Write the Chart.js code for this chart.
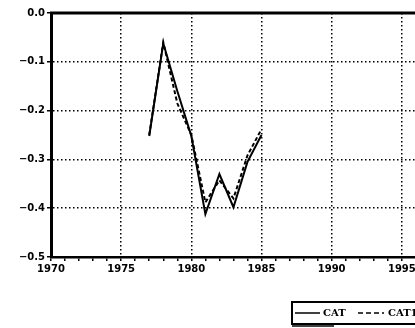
<!DOCTYPE html>
<html><head><meta charset="utf-8">
<script src="https://cdn.jsdelivr.net/npm/chart.js@4"></script>
<style>html,body{margin:0;padding:0;background:#fff;overflow:hidden;width:415px;height:328px}canvas{display:block}</style>
</head><body>
<canvas id="c" width="474" height="328"></canvas>
<script>
const years = [1977,1978,1979,1980,1981,1982,1983,1984,1985];
const cat  = [-0.252,-0.062,-0.160,-0.252,-0.412,-0.330,-0.398,-0.305,-0.250];
const cat1 = [-0.250,-0.060,-0.185,-0.250,-0.388,-0.343,-0.380,-0.292,-0.238];
const xTicks = [1970,1975,1980,1985,1990,1995];
const yTicks = [0,-0.1,-0.2,-0.3,-0.4,-0.5];
const seriesLabels = ['CAT','CAT1'];

const FONT = {family:'DejaVu Sans', size:10, weight:'bold'};
const isMajorX = v => xTicks.includes(Math.round(v)) && Math.abs(v-Math.round(v))<1e-9;

const frame = {
  id:'frame',
  afterDraw(chart){
    const {ctx, chartArea:a} = chart;
    ctx.save();
    ctx.strokeStyle='#000';
    ctx.lineWidth=3;
    ctx.beginPath();
    ctx.moveTo(a.left-1, a.top);
    ctx.lineTo(a.right, a.top);
    ctx.stroke();
    // legend box
    const bx=292, by=302, bw=150, bh=22;
    ctx.lineWidth=2;
    ctx.strokeRect(bx, by, bw, bh);
    ctx.lineWidth=1.5;
    ctx.beginPath(); ctx.moveTo(bx, by+bh+2); ctx.lineTo(bx+42, by+bh+2); ctx.stroke();
    const ly = by+bh/2;
    ctx.font='bold 10px "DejaVu Serif"';
    ctx.fillStyle='#000';
    ctx.textBaseline='middle';
    ctx.lineWidth=1.5;
    ctx.setLineDash([]);
    ctx.beginPath(); ctx.moveTo(bx+3, ly); ctx.lineTo(bx+28, ly); ctx.stroke();
    ctx.fillText(seriesLabels[0], bx+31, ly);
    ctx.setLineDash([5,3]);
    ctx.beginPath(); ctx.moveTo(bx+66, ly); ctx.lineTo(bx+92, ly); ctx.stroke();
    ctx.setLineDash([]);
    ctx.fillText(seriesLabels[1], bx+96, ly);
    ctx.restore();
  }
};

new Chart(document.getElementById('c'), {
  type:'line',
  data:{
    datasets:[
      {label:seriesLabels[0], data:years.map((y,i)=>({x:y,y:cat[i]})), borderColor:'#000', borderWidth:2, pointRadius:0, tension:0, fill:false},
      {label:seriesLabels[1], data:years.map((y,i)=>({x:y,y:cat1[i]})), borderColor:'#000', borderWidth:2, borderDash:[4,2.5], pointRadius:0, tension:0, fill:false}
    ]
  },
  options:{
    responsive:false, animation:false, devicePixelRatio:1,
    layout:{padding:{top:13,left:0,right:0,bottom:0}},
    plugins:{legend:{display:false}, tooltip:{enabled:false}},
    scales:{
      x:{
        type:'linear', min:1970, max:2000,
        afterFit(s){ s.height = 71; },
        ticks:{stepSize:1, autoSkip:false, maxRotation:0, color:'#000', font:FONT, padding:2,
          callback:v => isMajorX(v) ? String(Math.round(v)) : ''},
        grid:{
          color:c => (c.tick && isMajorX(c.tick.value) && c.tick.value>1970) ? '#000' : 'rgba(0,0,0,0)',
          tickColor:'#000', tickLength:4, tickWidth:1.5, lineWidth:1.5
        },
        border:{color:'#000', width:2.5, dash:[1.5,2.5]}
      },
      y:{
        min:-0.5, max:0,
        afterFit(s){ s.width = 51; },
        ticks:{stepSize:0.1, color:'#000', font:FONT, padding:2,
          callback:v => Math.abs(v)<1e-9 ? '0.0' : '\u2212'+Math.abs(v).toFixed(1)},
        grid:{
          color:c => (c.tick && Math.abs(c.tick.value)>1e-9 && Math.abs(c.tick.value+0.5)>1e-9) ? '#000' : 'rgba(0,0,0,0)',
          tickColor:'#000', tickLength:4, tickWidth:1.5, lineWidth:1.5
        },
        border:{color:'#000', width:3, dash:[1.5,2.5]}
      }
    }
  },
  plugins:[frame]
});
</script>
</body></html>
